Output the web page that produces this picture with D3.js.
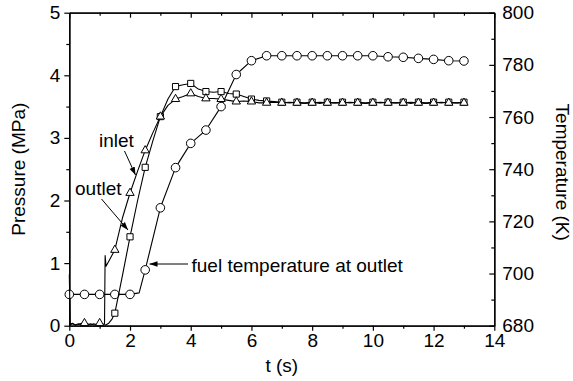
<!DOCTYPE html>
<html><head><meta charset="utf-8">
<script src="https://cdn.jsdelivr.net/npm/d3@7"></script>
<style>
html,body{margin:0;padding:0;background:#fff;}
svg{display:block;}
text{font-family:"Liberation Sans",Arial,Helvetica,sans-serif;fill:#000;}
</style></head>
<body>
<svg id="c" width="573" height="381"></svg>
<script>
// ---- data ----
const xTicks = [0, 2, 4, 6, 8, 10, 12, 14];
const pTicks = [0, 1, 2, 3, 4, 5];
const kTicks = [680, 700, 720, 740, 760, 780, 800];

const inletT = [0, 0.03, 0.1, 0.2, 0.3, 0.4, 0.5, 0.6, 0.7, 0.8, 0.9, 1.0, 1.1, 1.16, 1.18, 1.21, 1.3, 1.5, 1.75, 2.0, 2.25, 2.5, 2.75, 3.0, 3.25, 3.5, 3.75, 4.0, 4.25, 4.5, 4.75, 5.0, 5.25, 5.5, 5.75, 6.0, 6.25, 6.5, 6.75, 7.0, 7.25, 7.5, 7.75, 8.0, 8.25, 8.5, 8.75, 9.0, 9.25, 9.5, 9.75, 10.0, 10.25, 10.5, 10.75, 11.0, 11.25, 11.5, 11.75, 12.0, 12.25, 12.5, 12.75, 13.0];
const inletP = [0.82, 0.02, 0.04, 0.01, 0.03, 0.01, 0.04, 0.01, 0.03, 0.01, 0.02, 0.04, 0.02, 0.03, 1.12, 0.95, 1.03, 1.21, 1.72, 2.12, 2.47, 2.80, 3.08, 3.34, 3.52, 3.62, 3.66, 3.71, 3.66, 3.63, 3.63, 3.62, 3.60, 3.58, 3.59, 3.58, 3.56, 3.56, 3.57, 3.56, 3.57, 3.56, 3.55, 3.56, 3.57, 3.56, 3.56, 3.56, 3.57, 3.56, 3.55, 3.56, 3.57, 3.56, 3.56, 3.56, 3.57, 3.56, 3.55, 3.56, 3.57, 3.56, 3.56, 3.56];

const outletT = [0, 0.1, 0.2, 0.3, 0.4, 0.5, 0.6, 0.7, 0.8, 0.9, 1.0, 1.1, 1.2, 1.3, 1.4, 1.5, 1.75, 2.0, 2.25, 2.5, 2.75, 3.0, 3.25, 3.5, 3.75, 4.0, 4.25, 4.5, 4.75, 5.0, 5.25, 5.5, 5.75, 6.0, 6.25, 6.5, 6.75, 7.0, 7.25, 7.5, 7.75, 8.0, 8.25, 8.5, 8.75, 9.0, 9.25, 9.5, 9.75, 10.0, 10.25, 10.5, 10.75, 11.0, 11.25, 11.5, 11.75, 12.0, 12.25, 12.5, 12.75, 13.0];
const outletP = [0.01, 0.03, 0.01, 0.02, 0.04, 0.02, 0.03, 0.01, 0.03, 0.02, 0.01, 0.02, 0.01, 0.04, 0.10, 0.20, 0.80, 1.42, 2.00, 2.53, 2.95, 3.34, 3.62, 3.82, 3.85, 3.87, 3.78, 3.74, 3.73, 3.74, 3.71, 3.70, 3.66, 3.62, 3.60, 3.59, 3.58, 3.57, 3.56, 3.57, 3.56, 3.57, 3.55, 3.57, 3.56, 3.57, 3.56, 3.57, 3.56, 3.57, 3.56, 3.57, 3.56, 3.57, 3.55, 3.57, 3.56, 3.57, 3.56, 3.57, 3.56, 3.57];

const fuelT = [0, 0.5, 1.0, 1.5, 2.0, 2.3, 2.5, 3.0, 3.5, 4.0, 4.5, 5.0, 5.5, 6.0, 6.5, 7.0, 7.5, 8.0, 8.5, 9.0, 9.5, 10.0, 10.5, 11.0, 11.5, 12.0, 12.5, 13.0];
const fuelK = [692, 692, 692, 692, 692, 692.6, 701.4, 725.2, 740.6, 749.9, 755.0, 764.0, 776.3, 781.6, 783.5, 783.5, 783.5, 783.5, 783.5, 783.5, 783.5, 783.5, 783.1, 782.9, 782.5, 782.1, 781.6, 781.5];

const inletMarkFrom = 0.5, outletMarkFrom = 1.5, fuelMarkFrom = 0;

// ---- layout ----
const svg = d3.select("#c");
const X0 = 69.3, X1 = 494.3, Y0 = 325.7, Y1 = 12.7;
const x = d3.scaleLinear().domain([0, 14]).range([X0, X1]);
const yP = d3.scaleLinear().domain([0, 5]).range([Y0, Y1]);
const yK = d3.scaleLinear().domain([680, 800]).range([Y0, Y1]);
const FS = 19;

svg.append("rect").attr("width", 573).attr("height", 381).attr("fill", "#fff");

const defs = svg.append("defs");
defs.append("marker").attr("id", "ah").attr("viewBox", "0 0 10 10")
  .attr("refX", 10).attr("refY", 5).attr("markerWidth", 8).attr("markerHeight", 8)
  .attr("markerUnits", "userSpaceOnUse").attr("orient", "auto")
  .append("path").attr("d", "M0,1.5 L10,5 L0,8.5 Z").attr("fill", "#000");

function styleAxis(g) {
  g.selectAll("path.domain").attr("stroke", "#000").attr("stroke-width", 1.3);
  g.selectAll(".tick line").attr("stroke", "#000").attr("stroke-width", 1.2);
  g.selectAll("text").style("font-size", FS + "px").attr("fill", "#000");
}
const halfSteps = d3.range(0, 5.01, 0.5).filter(v => !pTicks.includes(v));
const oddX = d3.range(1, 14, 2);
const minorK = d3.range(690, 800, 20);

// left
svg.append("g").attr("transform", `translate(${X0},0)`)
  .call(d3.axisLeft(yP).tickValues(halfSteps).tickSize(3).tickFormat("").tickSizeOuter(0)).call(styleAxis);
svg.append("g").attr("transform", `translate(${X0},0)`)
  .call(d3.axisLeft(yP).tickValues(pTicks).tickSize(5).tickPadding(4).tickSizeOuter(0).tickFormat(d3.format("d"))).call(styleAxis);
// bottom
svg.append("g").attr("transform", `translate(0,${Y0})`)
  .call(d3.axisBottom(x).tickValues(oddX).tickSize(3).tickFormat("").tickSizeOuter(0)).call(styleAxis);
svg.append("g").attr("transform", `translate(0,${Y0})`)
  .call(d3.axisBottom(x).tickValues(xTicks).tickSize(5).tickPadding(3).tickSizeOuter(0).tickFormat(d3.format("d"))).call(styleAxis);
// top (inward)
svg.append("g").attr("transform", `translate(0,${Y1})`)
  .call(d3.axisTop(x).tickValues(oddX).tickSizeInner(-3).tickSizeOuter(0).tickFormat("")).call(styleAxis);
svg.append("g").attr("transform", `translate(0,${Y1})`)
  .call(d3.axisTop(x).tickValues(xTicks).tickSizeInner(-5).tickSizeOuter(0).tickFormat("")).call(styleAxis);
// right (inward ticks, labels outside)
svg.append("g").attr("transform", `translate(${X1},0)`)
  .call(d3.axisRight(yK).tickValues(minorK).tickSizeInner(-3).tickSizeOuter(0).tickFormat("")).call(styleAxis);
svg.append("g").attr("transform", `translate(${X1},0)`)
  .call(d3.axisRight(yK).tickValues(kTicks).tickSizeInner(-5).tickSizeOuter(0).tickPadding(8).tickFormat(d3.format("d"))).call(styleAxis);

// axis titles
svg.append("text").attr("transform", `translate(25,${(Y0 + Y1) / 2}) rotate(-90)`)
  .attr("text-anchor", "middle").style("font-size", FS + "px").text("Pressure (MPa)");
svg.append("text").attr("transform", `translate(556,${(Y0 + Y1) / 2 + 3}) rotate(90)`)
  .attr("text-anchor", "middle").style("font-size", FS + "px").text("Temperature (K)");
svg.append("text").attr("x", (X0 + X1) / 2).attr("y", 372)
  .attr("text-anchor", "middle").style("font-size", FS + "px").text("t (s)");

// ---- series ----
const plot = svg.append("g");
function drawSeries(ts, vs, yScale, symbol, size, markFrom) {
  const pts = ts.map((t, i) => [t, vs[i]]);
  plot.append("path").datum(pts)
    .attr("fill", "none").attr("stroke", "#000").attr("stroke-width", 1.1)
    .attr("stroke-linejoin", "round")
    .attr("d", d3.line().x(d => x(d[0])).y(d => yScale(d[1])));
  const marks = pts.filter(d => d[0] >= markFrom && Math.abs(d[0] * 2 - Math.round(d[0] * 2)) < 1e-9);
  plot.append("g").selectAll("path").data(marks).join("path")
    .attr("transform", d => `translate(${x(d[0])},${yScale(d[1])})`)
    .attr("d", d3.symbol().type(symbol).size(size)())
    .attr("fill", "#fff").attr("stroke", "#000").attr("stroke-width", 1);
}
drawSeries(fuelT, fuelK, yK, d3.symbolCircle, 58, fuelMarkFrom);
drawSeries(outletT, outletP, yP, d3.symbolSquare, 38, outletMarkFrom);
drawSeries(inletT, inletP, yP, d3.symbolTriangle, 30, inletMarkFrom);

// ---- annotations ----
function label(txt, tx, ty) {
  svg.append("text").attr("x", tx).attr("y", ty).style("font-size", FS + "px").text(txt);
}
function arrow(x1, y1, x2, y2) {
  svg.append("line").attr("x1", x1).attr("y1", y1).attr("x2", x2).attr("y2", y2)
    .attr("stroke", "#000").attr("stroke-width", 1).attr("marker-end", "url(#ah)");
}
label("inlet", 99, 147);
arrow(124.5, 151, 135.5, 175);
label("outlet", 75, 195);
arrow(101.5, 199, 128, 230);
label("fuel temperature at outlet", 191.5, 272);
arrow(188, 264, 149.5, 264);
</script>
</body></html>
